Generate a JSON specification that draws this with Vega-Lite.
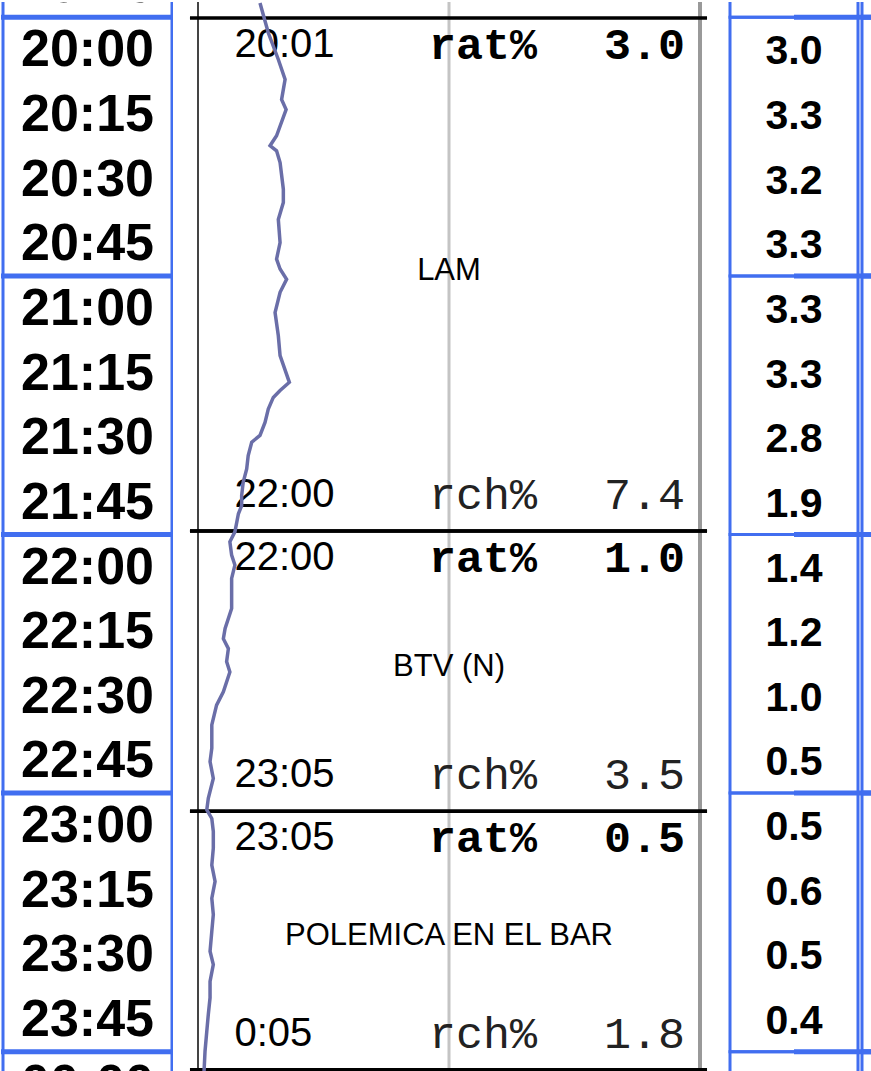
{
  "$schema": "https://vega.github.io/schema/vega-lite/v6.json",
  "padding": {"left": 1, "right": 0, "top": 0, "bottom": 0},
  "autosize": {"type": "pad"},
  "bounds": "flush",
  "spacing": 25,
  "background": "white",
  "config": {"view": {"stroke": null}, "axis": {"disable": true}, "font": "Liberation Sans"},
  "resolve": {"scale": {"x": "independent", "y": "independent"}},
  "datasets": {
    "hours": [
      {"start": 1140, "end": 1200},
      {"start": 1200, "end": 1260},
      {"start": 1260, "end": 1320},
      {"start": 1320, "end": 1380},
      {"start": 1380, "end": 1440},
      {"start": 1440, "end": 1500}
    ],
    "quarters": [
      {"t": 1185, "label": "19:45", "rat": 2.5},
      {"t": 1200, "label": "20:00", "rat": 3.0},
      {"t": 1215, "label": "20:15", "rat": 3.3},
      {"t": 1230, "label": "20:30", "rat": 3.2},
      {"t": 1245, "label": "20:45", "rat": 3.3},
      {"t": 1260, "label": "21:00", "rat": 3.3},
      {"t": 1275, "label": "21:15", "rat": 3.3},
      {"t": 1290, "label": "21:30", "rat": 2.8},
      {"t": 1305, "label": "21:45", "rat": 1.9},
      {"t": 1320, "label": "22:00", "rat": 1.4},
      {"t": 1335, "label": "22:15", "rat": 1.2},
      {"t": 1350, "label": "22:30", "rat": 1.0},
      {"t": 1365, "label": "22:45", "rat": 0.5},
      {"t": 1380, "label": "23:00", "rat": 0.5},
      {"t": 1395, "label": "23:15", "rat": 0.6},
      {"t": 1410, "label": "23:30", "rat": 0.5},
      {"t": 1425, "label": "23:45", "rat": 0.4},
      {"t": 1440, "label": "00:00", "rat": null}
    ],
    "programs": [
      {"name": "LAM", "start": 1201, "end": 1320, "startLabel": "20:01", "endLabel": "22:00", "rat": 3.0, "rch": 7.4},
      {"name": "BTV (N)", "start": 1320, "end": 1385, "startLabel": "22:00", "endLabel": "23:05", "rat": 1.0, "rch": 3.5},
      {"name": "POLEMICA EN EL BAR", "start": 1385, "end": 1445, "startLabel": "23:05", "endLabel": "0:05", "rat": 0.5, "rch": 1.8}
    ],
    "minute": [
      {"t": 1197.5, "r": 2.47}, {"t": 1204.4, "r": 2.8}, {"t": 1210.6, "r": 3.2}, {"t": 1215.2, "r": 3.47},
      {"t": 1219.9, "r": 3.33}, {"t": 1222.2, "r": 3.51}, {"t": 1228.3, "r": 3.13}, {"t": 1230.6, "r": 2.87},
      {"t": 1231.8, "r": 3.13}, {"t": 1234.5, "r": 3.27}, {"t": 1240.7, "r": 3.4}, {"t": 1243.8, "r": 3.4},
      {"t": 1247.7, "r": 3.2}, {"t": 1253.1, "r": 3.27}, {"t": 1256.9, "r": 3.13}, {"t": 1259.2, "r": 3.27},
      {"t": 1261.6, "r": 3.53}, {"t": 1264.6, "r": 3.27}, {"t": 1269.3, "r": 3.07}, {"t": 1274.7, "r": 3.2},
      {"t": 1279.3, "r": 3.27}, {"t": 1285.5, "r": 3.64}, {"t": 1287.4, "r": 3.27}, {"t": 1289.0, "r": 3.0},
      {"t": 1291.7, "r": 2.8}, {"t": 1294.8, "r": 2.67}, {"t": 1297.8, "r": 2.47}, {"t": 1299.4, "r": 2.14},
      {"t": 1302.5, "r": 2.0}, {"t": 1305.6, "r": 1.94}, {"t": 1308.7, "r": 1.8}, {"t": 1311.7, "r": 1.74},
      {"t": 1314.1, "r": 1.74}, {"t": 1316.0, "r": 1.61}, {"t": 1320.2, "r": 1.47}, {"t": 1322.5, "r": 1.27},
      {"t": 1325.6, "r": 1.34}, {"t": 1327.9, "r": 1.47}, {"t": 1331.0, "r": 1.34}, {"t": 1338.0, "r": 1.34},
      {"t": 1342.6, "r": 1.08}, {"t": 1345.0, "r": 1.01}, {"t": 1347.3, "r": 1.21}, {"t": 1350.3, "r": 1.14},
      {"t": 1352.7, "r": 1.27}, {"t": 1357.3, "r": 1.01}, {"t": 1360.4, "r": 0.74}, {"t": 1365.0, "r": 0.55},
      {"t": 1370.4, "r": 0.55}, {"t": 1373.5, "r": 0.48}, {"t": 1377.4, "r": 0.61}, {"t": 1382.0, "r": 0.41},
      {"t": 1384.7, "r": 0.35}, {"t": 1386.7, "r": 0.55}, {"t": 1389.7, "r": 0.61}, {"t": 1393.6, "r": 0.61},
      {"t": 1397.5, "r": 0.55}, {"t": 1401.3, "r": 0.68}, {"t": 1405.2, "r": 0.55}, {"t": 1409.0, "r": 0.61},
      {"t": 1412.9, "r": 0.55}, {"t": 1417.5, "r": 0.48}, {"t": 1420.6, "r": 0.61}, {"t": 1424.5, "r": 0.48},
      {"t": 1428.3, "r": 0.48}, {"t": 1432.2, "r": 0.41}, {"t": 1436.1, "r": 0.35}, {"t": 1440.7, "r": 0.28},
      {"t": 1445.5, "r": 0.24}
    ]
  },
  "hconcat": [
    {
      "width": 172,
      "height": 1071,
      "layer": [
        {
          "data": {"name": "hours"},
          "mark": {"type": "rect", "fill": "white", "fillOpacity": 0, "stroke": "#416ef0", "strokeWidth": 3, "clip": true},
          "encoding": {
            "x": {"datum": "time", "type": "nominal", "scale": {"type": "band", "domain": ["time"], "range": [2, 171], "paddingInner": 0, "paddingOuter": 0}},
            "y": {"field": "start", "type": "quantitative", "scale": {"domain": [1196.45, 1444.94], "reverse": true, "nice": false, "zero": false}},
            "y2": {"field": "end"}
          }
        },
        {
          "data": {"name": "hours"},
          "mark": {"type": "rule", "color": "#416ef0", "strokeWidth": 5, "clip": true},
          "encoding": {"y": {"field": "start", "type": "quantitative"}}
        },
        {
          "data": {"name": "quarters"},
          "mark": {"type": "text", "font": "Liberation Sans", "fontWeight": "bold", "fontSize": 52, "baseline": "middle", "align": "center", "dy": 33, "clip": true, "color": "black"},
          "encoding": {
            "x": {"datum": "time", "type": "nominal"},
            "y": {"field": "t", "type": "quantitative"},
            "text": {"field": "label"}
          }
        }
      ]
    },
    {
      "width": 502,
      "height": 1071,
      "layer": [
        {
          "data": {"values": [{}]},
          "mark": {"type": "rule", "color": "#444444", "strokeWidth": 2},
          "encoding": {"x": {"datum": 0, "type": "quantitative"}}
        },
        {
          "data": {"values": [{}]},
          "mark": {"type": "rule", "color": "#c4c4c4", "strokeWidth": 3},
          "encoding": {"x": {"datum": 10, "type": "quantitative"}}
        },
        {
          "data": {"values": [{}]},
          "mark": {"type": "rule", "color": "#999999", "strokeWidth": 4},
          "encoding": {"x": {"datum": 20, "type": "quantitative"}}
        },
        {
          "data": {"name": "programs"},
          "mark": {"type": "rule", "color": "black", "strokeWidth": 3.5},
          "encoding": {
            "y": {"field": "start", "type": "quantitative"},
            "x": {"datum": -0.32, "type": "quantitative"},
            "x2": {"datum": 20.28}
          }
        },
        {
          "data": {"name": "programs"},
          "mark": {"type": "rule", "color": "black", "strokeWidth": 3.5},
          "encoding": {
            "y": {"field": "end", "type": "quantitative"},
            "x": {"datum": -0.32, "type": "quantitative"},
            "x2": {"datum": 20.28}
          }
        },
        {
          "data": {"name": "programs"},
          "transform": [{"fold": ["start", "end"], "as": ["edge", "tv"]}],
          "mark": {"type": "text", "font": "Liberation Sans", "fontSize": 31, "baseline": "middle", "align": "center", "dy": -4, "color": "black"},
          "encoding": {
            "y": {"aggregate": "mean", "field": "tv", "type": "quantitative"},
            "x": {"datum": 10, "type": "quantitative"},
            "text": {"field": "name"}
          }
        },
        {
          "data": {"name": "programs"},
          "mark": {"type": "text", "font": "Liberation Sans", "fontSize": 40, "baseline": "middle", "align": "left", "dy": 27, "color": "black"},
          "encoding": {
            "y": {"field": "start", "type": "quantitative"},
            "x": {"datum": 1.45, "type": "quantitative"},
            "text": {"field": "startLabel"}
          }
        },
        {
          "data": {"name": "programs"},
          "mark": {"type": "text", "font": "Liberation Mono", "fontWeight": "bold", "fontSize": 45, "baseline": "middle", "align": "left", "dy": 27, "color": "black"},
          "encoding": {
            "y": {"field": "start", "type": "quantitative"},
            "x": {"datum": 9.2, "type": "quantitative"},
            "text": {"value": "rat%"}
          }
        },
        {
          "data": {"name": "programs"},
          "mark": {"type": "text", "font": "Liberation Mono", "fontWeight": "bold", "fontSize": 45, "baseline": "middle", "align": "right", "dy": 27, "color": "black"},
          "encoding": {
            "y": {"field": "start", "type": "quantitative"},
            "x": {"datum": 19.4, "type": "quantitative"},
            "text": {"field": "rat", "format": ".1f"}
          }
        },
        {
          "data": {"name": "programs"},
          "mark": {"type": "text", "font": "Liberation Sans", "fontSize": 40, "baseline": "middle", "align": "left", "dy": -36, "color": "black"},
          "encoding": {
            "y": {"field": "end", "type": "quantitative"},
            "x": {"datum": 1.45, "type": "quantitative"},
            "text": {"field": "endLabel"}
          }
        },
        {
          "data": {"name": "programs"},
          "mark": {"type": "text", "font": "Liberation Mono", "fontSize": 45, "baseline": "middle", "align": "left", "dy": -36, "color": "#222222"},
          "encoding": {
            "y": {"field": "end", "type": "quantitative"},
            "x": {"datum": 9.2, "type": "quantitative"},
            "text": {"value": "rch%"}
          }
        },
        {
          "data": {"name": "programs"},
          "mark": {"type": "text", "font": "Liberation Mono", "fontSize": 45, "baseline": "middle", "align": "right", "dy": -36, "color": "#222222"},
          "encoding": {
            "y": {"field": "end", "type": "quantitative"},
            "x": {"datum": 19.4, "type": "quantitative"},
            "text": {"field": "rch", "format": ".1f"}
          }
        },
        {
          "data": {"name": "minute"},
          "mark": {"type": "line", "color": "#6a6ea8", "strokeWidth": 3.5, "clip": true},
          "encoding": {
            "x": {"field": "r", "type": "quantitative", "scale": {"domain": [0, 20], "nice": false, "zero": false}},
            "y": {"field": "t", "type": "quantitative", "scale": {"domain": [1197.26, 1445.75], "reverse": true, "nice": false, "zero": false}},
            "order": {"field": "t", "type": "quantitative"}
          }
        }
      ]
    },
    {
      "width": 146,
      "height": 1071,
      "layer": [
        {
          "data": {"name": "hours"},
          "mark": {"type": "rect", "fill": "white", "fillOpacity": 0, "stroke": "#416ef0", "strokeWidth": 3, "clip": true},
          "encoding": {
            "x": {"datum": "val", "type": "nominal", "scale": {"type": "band", "domain": ["val", "next"], "range": [5, 265], "paddingInner": 0.0303, "paddingOuter": 0}},
            "y": {"field": "start", "type": "quantitative", "scale": {"domain": [1196.45, 1444.94], "reverse": true, "nice": false, "zero": false}},
            "y2": {"field": "end"}
          }
        },
        {
          "data": {"name": "hours"},
          "mark": {"type": "rect", "fill": "white", "fillOpacity": 0, "stroke": "#416ef0", "strokeWidth": 3, "clip": true},
          "encoding": {
            "x": {"datum": "next", "type": "nominal"},
            "y": {"field": "start", "type": "quantitative"},
            "y2": {"field": "end"}
          }
        },
        {
          "data": {"name": "hours"},
          "mark": {"type": "rule", "color": "#416ef0", "strokeWidth": 5, "clip": true},
          "encoding": {
            "y": {"field": "start", "type": "quantitative"},
            "x": {"datum": "val", "type": "nominal"},
            "x2": {"datum": "next"}
          }
        },
        {
          "data": {"name": "hours"},
          "mark": {"type": "rule", "color": "#416ef0", "strokeWidth": 5, "clip": true},
          "encoding": {
            "y": {"field": "start", "type": "quantitative"},
            "x": {"datum": "next", "type": "nominal", "bandPosition": 0},
            "x2": {"datum": "next", "bandPosition": 1}
          }
        },
        {
          "data": {"name": "quarters"},
          "transform": [{"filter": "datum.rat != null"}],
          "mark": {"type": "text", "font": "Liberation Sans", "fontWeight": "bold", "fontSize": 41, "baseline": "middle", "align": "center", "dy": 35, "clip": true, "color": "black"},
          "encoding": {
            "x": {"datum": "val", "type": "nominal"},
            "y": {"field": "t", "type": "quantitative"},
            "text": {"field": "rat", "format": ".1f"}
          }
        }
      ]
    }
  ]
}
